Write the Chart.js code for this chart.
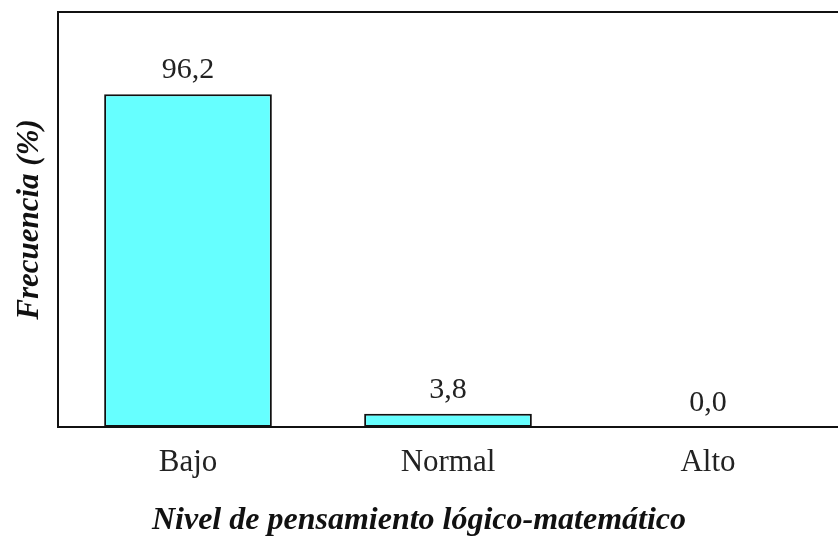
<!DOCTYPE html>
<html>
<head>
<meta charset="utf-8">
<script src="https://cdn.jsdelivr.net/npm/chart.js@4"></script>
<style>
html,body{margin:0;padding:0;background:#fff;}
#wrap{width:838px;height:536px;position:relative;}
</style>
</head>
<body>
<div id="wrap"><canvas id="c" width="838" height="536"></canvas></div>
<script>
const categories = ["Bajo", "Normal", "Alto"];
const frecuencia = [96.2, 3.8, 0.0];
const xTitle = "Nivel de pensamiento lógico-matemático";
const yTitle = "Frecuencia (%)";

const FONT = "'Liberation Serif', 'Times New Roman', serif";

const frame = {
  id: 'frame',
  afterDraw(chart) {
    const {ctx, chartArea} = chart;
    ctx.save();
    ctx.strokeStyle = '#111';
    ctx.lineWidth = 2;
    ctx.beginPath();
    ctx.moveTo(chartArea.left, chartArea.top);
    ctx.lineTo(chart.width, chartArea.top);
    ctx.stroke();
    ctx.restore();
  }
};

const valueLabels = {
  id: 'valueLabels',
  afterDatasetsDraw(chart) {
    const {ctx} = chart;
    const meta = chart.getDatasetMeta(0);
    ctx.save();
    ctx.font = "30px " + FONT;
    ctx.fillStyle = '#222';
    ctx.textAlign = 'center';
    ctx.textBaseline = 'alphabetic';
    meta.data.forEach((bar, i) => {
      const v = chart.data.datasets[0].data[i];
      ctx.fillText(v.toFixed(1).replace('.', ','), bar.x, bar.y - 16);
    });
    ctx.restore();
  }
};

new Chart(document.getElementById('c'), {
  type: 'bar',
  data: {
    labels: categories,
    datasets: [{
      data: frecuencia,
      backgroundColor: '#66FFFF',
      borderColor: '#111',
      borderWidth: 2,
      borderSkipped: false,
      barPercentage: 0.645,
      categoryPercentage: 1.0
    }]
  },
  options: {
    responsive: false,
    animation: false,
    layout: { padding: { top: 12, right: 0, left: 0, bottom: 0 } },
    plugins: {
      legend: { display: false },
      tooltip: { enabled: false },
      title: {
        display: true, position: 'bottom', text: xTitle, color: '#111',
        font: { family: FONT, size: 32, weight: 'bold', style: 'italic', lineHeight: 1.2 },
        padding: { top: 0, bottom: -4 }
      }
    },
    scales: {
      x: {
        grid: { display: false, drawTicks: false },
        border: { display: true, color: '#111', width: 2 },
        ticks: { color: '#222', font: { family: FONT, size: 31 }, padding: 17 },
        afterFit(s) { s.height = 109 - 34.4; }
      },
      y: {
        min: 0, max: 120,
        grid: { display: false, drawTicks: false },
        border: { display: true, color: '#111', width: 2 },
        ticks: { display: false },
        title: { display: true, text: yTitle, color: '#111',
                 font: { family: FONT, size: 31, weight: 'bold', style: 'italic' },
                 padding: { top: 11, bottom: 0 } },
        afterFit(s) { s.width = 58; }
      }
    }
  },
  plugins: [frame, valueLabels]
});
</script>
</body>
</html>
